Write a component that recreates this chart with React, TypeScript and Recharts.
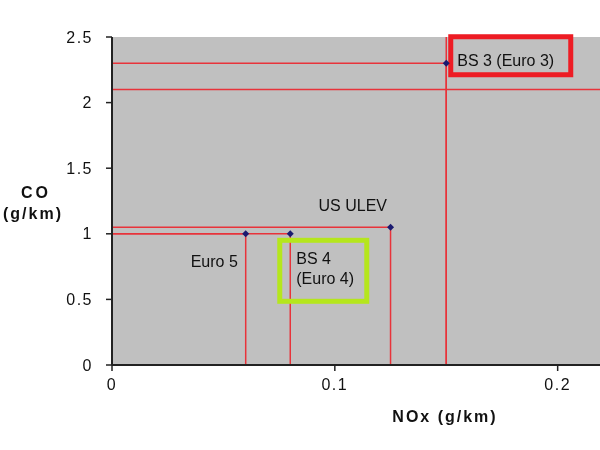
import React from "react";
import {
  ScatterChart,
  Scatter,
  XAxis,
  YAxis,
  CartesianGrid,
  ReferenceLine,
} from "recharts";

const names = ["Euro 5", "BS 4", "US ULEV", "BS 3"];
const noxValues = [0.06, 0.08, 0.125, 0.15];
const coValues = [1.0, 1.0, 1.05, 2.3];
const labelLines: string[][] = [["Euro 5"], ["BS 4", "(Euro 4)"], ["US ULEV"], ["BS 3 (Euro 3)"]];

const xTicks = [0, 0.1, 0.2];
const yTicks = [0, 0.5, 1, 1.5, 2, 2.5];
const fullHeightNox = [0.15];
const fullWidthCo = [2.1];

const points = names.map((name, i) => ({
  name,
  nox: noxValues[i],
  co: coValues[i],
  lines: labelLines[i],
}));

// label placement relative to each marker
const labelLayout: Record<string, { dx: number; dy: number; box?: { x: number; y: number; w: number; h: number; color: string } }> = {
  "Euro 5": { dx: -55, dy: 33 },
  "BS 4": { dx: 6, dy: 30, box: { x: -10.5, y: 6.5, w: 87, h: 61, color: "#b5e61d" } },
  "US ULEV": { dx: -72, dy: -16 },
  "BS 3": { dx: 11, dy: 3, box: { x: 4.5, y: -26.5, w: 120, h: 38, color: "#ed1c24" } },
};

const FONT = "'Liberation Sans', Arial, sans-serif";
const RED = "#e8333a";

const PointShape = (props: any) => {
  const { cx, cy, payload } = props;
  const lay = labelLayout[payload.name];
  const s = 3.5;
  return (
    <g>
      {lay.box && (
        <rect
          x={cx + lay.box.x}
          y={cy + lay.box.y}
          width={lay.box.w}
          height={lay.box.h}
          fill="none"
          stroke={lay.box.color}
          strokeWidth={5}
        />
      )}
      <polygon
        points={`${cx},${cy - s} ${cx + s},${cy} ${cx},${cy + s} ${cx - s},${cy}`}
        fill="#1a1a70"
      />
      {payload.lines.map((t: string, i: number) => (
        <text
          key={i}
          x={cx + lay.dx}
          y={cy + lay.dy + i * 20}
          fontFamily={FONT}
          fontSize={16}
          fill="#111"
        >
          {t}
        </text>
      ))}
    </g>
  );
};

export default function App() {
  return (
    <div style={{ position: "fixed", left: 0, top: 0, width: 600, height: 450 }}>
      <ScatterChart
        width={600}
        height={450}
        margin={{ top: 37, right: 0, bottom: 55, left: 0 }}
      >
        <CartesianGrid fill="#c0c0c0" horizontal={false} vertical={false} />
        <XAxis
          type="number"
          dataKey="nox"
          domain={[0, 0.219]}
          ticks={xTicks}
          height={30}
          tickSize={6}
          tickMargin={8}
          axisLine={{ stroke: "#222", strokeWidth: 2 }}
          tickLine={{ stroke: "#222", strokeWidth: 1.5 }}
          tick={{ fill: "#111", fontSize: 16, fontFamily: FONT, letterSpacing: 1.5 }}
        />
        <YAxis
          type="number"
          dataKey="co"
          domain={[0, 2.5]}
          ticks={yTicks}
          width={112}
          tickSize={6}
          tickMargin={13}
          axisLine={{ stroke: "#222", strokeWidth: 2 }}
          tickLine={{ stroke: "#222", strokeWidth: 1.5 }}
          tick={{ fill: "#111", fontSize: 16, fontFamily: FONT, letterSpacing: 1.5 }}
        />
        {points.map((p) => (
          <ReferenceLine
            key={`h-${p.name}`}
            segment={[
              { x: 0, y: p.co },
              { x: p.nox, y: p.co },
            ]}
            stroke={RED}
            strokeWidth={1.5}
          />
        ))}
        {points.map((p) => (
          <ReferenceLine
            key={`v-${p.name}`}
            segment={[
              { x: p.nox, y: 0 },
              { x: p.nox, y: p.co },
            ]}
            stroke={RED}
            strokeWidth={1.5}
          />
        ))}
        {fullHeightNox.map((v) => (
          <ReferenceLine key={`fx-${v}`} x={v} stroke={RED} strokeWidth={1.5} />
        ))}
        {fullWidthCo.map((v) => (
          <ReferenceLine key={`fy-${v}`} y={v} stroke={RED} strokeWidth={1.5} />
        ))}
        <Scatter data={points} shape={<PointShape />} isAnimationActive={false} />
        <text
          x={36}
          y={198}
          textAnchor="middle"
          fontFamily={FONT}
          fontWeight="bold"
          fontSize={16}
          letterSpacing={3}
          fill="#111"
        >
          CO
        </text>
        <text
          x={33}
          y={219}
          textAnchor="middle"
          fontFamily={FONT}
          fontWeight="bold"
          fontSize={16}
          letterSpacing={2}
          fill="#111"
        >
          (g/km)
        </text>
        <text
          x={445}
          y={422}
          textAnchor="middle"
          fontFamily={FONT}
          fontWeight="bold"
          fontSize={16}
          letterSpacing={2}
          fill="#111"
        >
          NOx (g/km)
        </text>
      </ScatterChart>
    </div>
  );
}
